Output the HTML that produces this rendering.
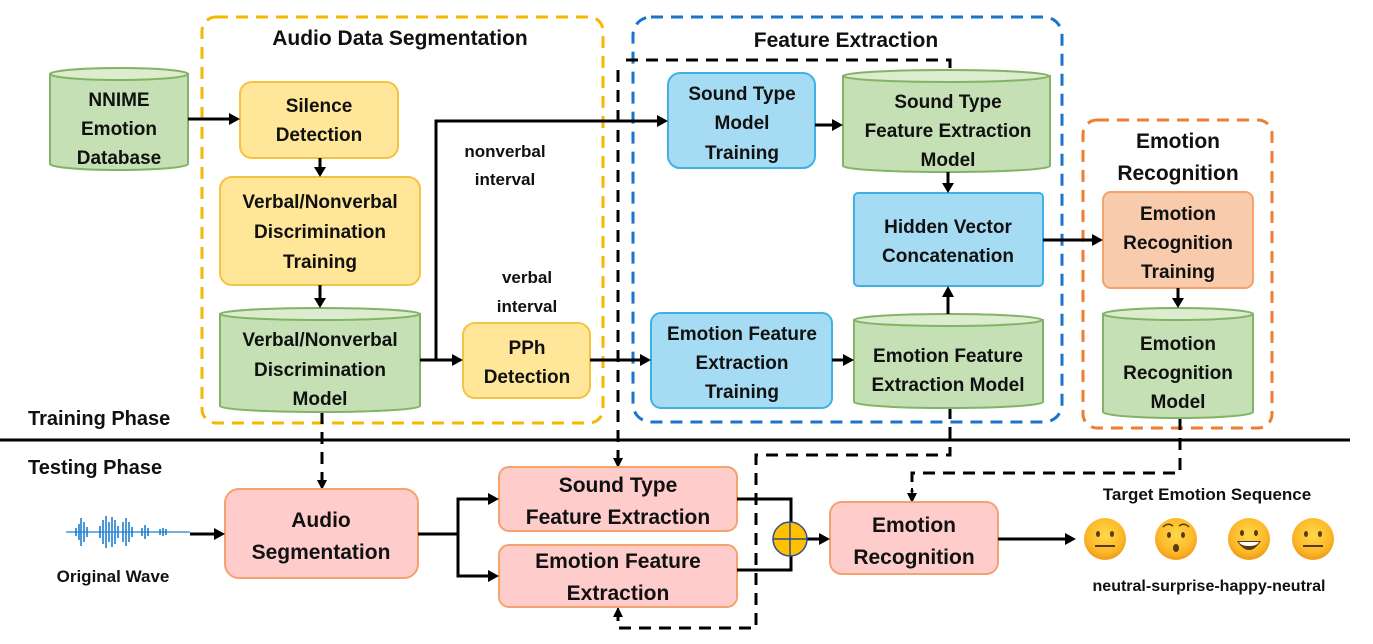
<!DOCTYPE html>
<html><head><meta charset="utf-8"><style>
html,body{margin:0;padding:0;background:#fff;}
svg{display:block;}
text{font-family:"Liberation Sans",sans-serif;font-weight:bold;fill:#111;text-anchor:middle;}
</style></head><body>
<svg width="1373" height="644" viewBox="0 0 1373 644" xmlns="http://www.w3.org/2000/svg">
<defs>
<marker id="a" markerWidth="10" markerHeight="10" refX="9" refY="5" orient="auto" markerUnits="userSpaceOnUse"><path d="M0,0 L10,5 L0,10 z" fill="#000"/></marker>
</defs>

<rect x="202" y="17" width="401" height="406" rx="14" fill="none" stroke="#f5b800" stroke-width="3" stroke-dasharray="12,8"/>
<rect x="633" y="17" width="429" height="405" rx="18" fill="none" stroke="#1a75c9" stroke-width="3" stroke-dasharray="12,8"/>
<rect x="1083" y="120" width="189" height="308" rx="14" fill="none" stroke="#ed7d31" stroke-width="3" stroke-dasharray="12,8"/>

<text x="400" y="45" font-size="21">Audio Data Segmentation</text>
<text x="846" y="47" font-size="21">Feature Extraction</text>
<text x="1178" y="148" font-size="21">Emotion</text>
<text x="1178" y="180" font-size="21">Recognition</text>

<line x1="0" y1="440" x2="1350" y2="440" stroke="#000" stroke-width="3"/>
<text x="28" y="425" font-size="20" style="text-anchor:start">Training Phase</text>
<text x="28" y="474" font-size="20" style="text-anchor:start">Testing Phase</text>

<g fill="none" stroke="#000" stroke-width="3" stroke-dasharray="12,8">
<path d="M950,68 L950,60 L621,60"/>
<path d="M618,70 L618,458" />
<path d="M950,407 L950,455 L756,455 L756,628 L618,628 L618,615"/>
<path d="M1180,418 L1180,473 L912,473 L912,492"/>
<path d="M322,412 L322,480"/>
</g>
<g stroke="#000" stroke-width="2" marker-end="url(#a)">
<line x1="618" y1="455" x2="618" y2="467"/>
<line x1="618" y1="618" x2="618" y2="608"/>
<line x1="912" y1="488" x2="912" y2="502"/>
<line x1="322" y1="476" x2="322" y2="489"/>
</g>

<g stroke="#82b366" stroke-width="2">
<path d="M50,74 L50,164 A69,6 0 0 0 188,164 L188,74 Z" fill="#c5e0b4"/>
<ellipse cx="119" cy="74" rx="69" ry="6" fill="#dbeccf"/>
<path d="M220,314 L220,406 A100,6 0 0 0 420,406 L420,314 Z" fill="#c5e0b4"/>
<ellipse cx="320" cy="314" rx="100" ry="6" fill="#dbeccf"/>
<path d="M843,76 L843,166 A103,6 0 0 0 1050,166 L1050,76 Z" fill="#c5e0b4"/>
<ellipse cx="946" cy="76" rx="103" ry="6" fill="#dbeccf"/>
<path d="M854,320 L854,402 A94,6 0 0 0 1043,402 L1043,320 Z" fill="#c5e0b4"/>
<ellipse cx="948" cy="320" rx="94" ry="6" fill="#dbeccf"/>
<path d="M1103,314 L1103,412 A75,6 0 0 0 1253,412 L1253,314 Z" fill="#c5e0b4"/>
<ellipse cx="1178" cy="314" rx="75" ry="6" fill="#dbeccf"/>
</g>

<g fill="#ffe699" stroke="#f5c342" stroke-width="2">
<rect x="240" y="82" width="158" height="76" rx="12"/>
<rect x="220" y="177" width="200" height="108" rx="12"/>
<rect x="463" y="323" width="127" height="75" rx="12"/>
</g>
<g fill="#a6dcf3" stroke="#3fb1e5" stroke-width="2">
<rect x="668" y="73" width="147" height="95" rx="12"/>
<rect x="854" y="193" width="189" height="93" rx="4"/>
<rect x="651" y="313" width="181" height="95" rx="10"/>
</g>
<rect x="1103" y="192" width="150" height="96" rx="8" fill="#f8cbad" stroke="#f4a16a" stroke-width="2"/>
<g fill="#ffcccc" stroke="#f4a36e" stroke-width="2">
<rect x="225" y="489" width="193" height="89" rx="14"/>
<rect x="499" y="467" width="238" height="64" rx="10"/>
<rect x="499" y="545" width="238" height="62" rx="10"/>
<rect x="830" y="502" width="168" height="72" rx="12"/>
</g>

<g font-size="19">
<text x="119" y="106">NNIME</text><text x="119" y="135">Emotion</text><text x="119" y="164">Database</text>
<text x="319" y="112">Silence</text><text x="319" y="141">Detection</text>
<text x="320" y="208">Verbal/Nonverbal</text><text x="320" y="238">Discrimination</text><text x="320" y="268">Training</text>
<text x="320" y="346">Verbal/Nonverbal</text><text x="320" y="376">Discrimination</text><text x="320" y="405">Model</text>
<text x="527" y="354">PPh</text><text x="527" y="383">Detection</text>
<text x="742" y="100">Sound Type</text><text x="742" y="129">Model</text><text x="742" y="159">Training</text>
<text x="948" y="108">Sound Type</text><text x="948" y="137">Feature Extraction</text><text x="948" y="166">Model</text>
<text x="948" y="233">Hidden Vector</text><text x="948" y="262">Concatenation</text>
<text x="742" y="340">Emotion Feature</text><text x="742" y="369">Extraction</text><text x="742" y="398">Training</text>
<text x="948" y="362">Emotion Feature</text><text x="948" y="391">Extraction Model</text>
<text x="1178" y="220">Emotion</text><text x="1178" y="249">Recognition</text><text x="1178" y="278">Training</text>
<text x="1178" y="350">Emotion</text><text x="1178" y="379">Recognition</text><text x="1178" y="408">Model</text>
</g>
<g font-size="21">
<text x="321" y="527">Audio</text><text x="321" y="559">Segmentation</text>
<text x="618" y="492">Sound Type</text><text x="618" y="524">Feature Extraction</text>
<text x="618" y="568">Emotion Feature</text><text x="618" y="600">Extraction</text>
<text x="914" y="532">Emotion</text><text x="914" y="564">Recognition</text>
</g>
<g font-size="17">
<text x="505" y="157">nonverbal</text><text x="505" y="185">interval</text>
<text x="527" y="283">verbal</text><text x="527" y="312">interval</text>
<text x="113" y="582">Original Wave</text>
<text x="1207" y="500">Target Emotion Sequence</text>
<text x="1209" y="591" font-size="16">neutral-surprise-happy-neutral</text>
</g>

<g fill="none" stroke="#000" stroke-width="3">
<line x1="188" y1="119" x2="230" y2="119"/>
<line x1="320" y1="158" x2="320" y2="168"/>
<line x1="320" y1="285" x2="320" y2="299"/>
<path d="M420,360 L454,360"/>
<path d="M436,360 L436,121 L658,121"/>
<line x1="590" y1="360" x2="642" y2="360"/>
<line x1="815" y1="125" x2="834" y2="125"/>
<line x1="948" y1="172" x2="948" y2="184"/>
<line x1="832" y1="360" x2="845" y2="360"/>
<line x1="948" y1="314" x2="948" y2="296"/>
<line x1="1043" y1="240" x2="1094" y2="240"/>
<line x1="1178" y1="288" x2="1178" y2="299"/>
<line x1="190" y1="534" x2="216" y2="534"/>
<path d="M418,534 L458,534"/>
<path d="M490,499 L458,499 L458,576 L490,576"/>
<path d="M737,499 L791,499 L791,522"/>
<path d="M737,570 L791,570 L791,556"/>
<line x1="807" y1="539" x2="821" y2="539"/>
<line x1="998" y1="539" x2="1066" y2="539"/>
</g>
<g fill="#000">
<path d="M240,119 l-11,-6 v12 z"/>
<path d="M320,177 l-6,-10 h12 z"/>
<path d="M320,308 l-6,-10 h12 z"/>
<path d="M463,360 l-11,-6 v12 z"/>
<path d="M668,121 l-11,-6 v12 z"/>
<path d="M651,360 l-11,-6 v12 z"/>
<path d="M843,125 l-11,-6 v12 z"/>
<path d="M948,193 l-6,-10 h12 z"/>
<path d="M854,360 l-11,-6 v12 z"/>
<path d="M948,286 l-6,11 h12 z"/>
<path d="M1103,240 l-11,-6 v12 z"/>
<path d="M1178,308 l-6,-10 h12 z"/>
<path d="M225,534 l-11,-6 v12 z"/>
<path d="M499,499 l-11,-6 v12 z"/>
<path d="M499,576 l-11,-6 v12 z"/>
<path d="M830,539 l-11,-6 v12 z"/>
<path d="M1076,539 l-11,-6 v12 z"/>
</g>

<circle cx="790" cy="539" r="17" fill="#ffc000" stroke="#2f4f8f" stroke-width="1.5"/>
<line x1="773" y1="539" x2="807" y2="539" stroke="#2f4f8f" stroke-width="1.5"/>
<line x1="790" y1="522" x2="790" y2="556" stroke="#2f4f8f" stroke-width="1.5"/>

<g stroke="#1f7fd1" stroke-width="1.6">
<line x1="66" y1="532" x2="190" y2="532" stroke-width="1.2"/>
<line x1="76" y1="528" x2="76" y2="536"/><line x1="79" y1="524" x2="79" y2="540"/><line x1="81" y1="518" x2="81" y2="546"/><line x1="84" y1="522" x2="84" y2="542"/><line x1="87" y1="527" x2="87" y2="537"/>
<line x1="100" y1="526" x2="100" y2="538"/><line x1="103" y1="520" x2="103" y2="544"/><line x1="106" y1="516" x2="106" y2="548"/><line x1="109" y1="522" x2="109" y2="542"/><line x1="112" y1="517" x2="112" y2="547"/><line x1="115" y1="520" x2="115" y2="544"/><line x1="118" y1="526" x2="118" y2="538"/>
<line x1="123" y1="522" x2="123" y2="542"/><line x1="126" y1="518" x2="126" y2="546"/><line x1="129" y1="522" x2="129" y2="542"/><line x1="132" y1="527" x2="132" y2="537"/>
<line x1="142" y1="528" x2="142" y2="536"/><line x1="145" y1="525" x2="145" y2="539"/><line x1="148" y1="528" x2="148" y2="536"/>
<line x1="160" y1="529" x2="160" y2="535"/><line x1="163" y1="528" x2="163" y2="536"/><line x1="166" y1="529" x2="166" y2="535"/>
</g>

<defs>
<radialGradient id="e" cx="50%" cy="40%" r="60%"><stop offset="0" stop-color="#ffd84a"/><stop offset="0.7" stop-color="#fbb928"/><stop offset="1" stop-color="#f29a1a"/></radialGradient>
</defs>
<g>
<circle cx="1105" cy="539" r="21" fill="url(#e)"/>
<ellipse cx="1098" cy="534" rx="2" ry="3" fill="#5a3a12"/><ellipse cx="1112" cy="534" rx="2" ry="3" fill="#5a3a12"/>
<line x1="1095" y1="546" x2="1115" y2="546" stroke="#5a3a12" stroke-width="2"/>
<circle cx="1176" cy="539" r="21" fill="url(#e)"/>
<ellipse cx="1169" cy="535" rx="2" ry="3" fill="#5a3a12"/><ellipse cx="1183" cy="535" rx="2" ry="3" fill="#5a3a12"/>
<path d="M1163,527 q5,-5 10,-1 M1179,526 q5,-4 10,1" stroke="#5a3a12" stroke-width="1.5" fill="none"/>
<ellipse cx="1176" cy="548" rx="3" ry="4" fill="#5a3a12"/>
<circle cx="1249" cy="539" r="21" fill="url(#e)"/>
<ellipse cx="1242" cy="533" rx="2" ry="3" fill="#5a3a12"/><ellipse cx="1256" cy="533" rx="2" ry="3" fill="#5a3a12"/>
<path d="M1237,541 q12,18 24,0 z" fill="#5a3a12"/><path d="M1239,542 h20 q-2,4 -10,4 q-8,0 -10,-4z" fill="#fff"/>
<circle cx="1313" cy="539" r="21" fill="url(#e)"/>
<ellipse cx="1306" cy="534" rx="2" ry="3" fill="#5a3a12"/><ellipse cx="1320" cy="534" rx="2" ry="3" fill="#5a3a12"/>
<line x1="1303" y1="546" x2="1323" y2="546" stroke="#5a3a12" stroke-width="2"/>
</g>
</svg>
</body></html>
